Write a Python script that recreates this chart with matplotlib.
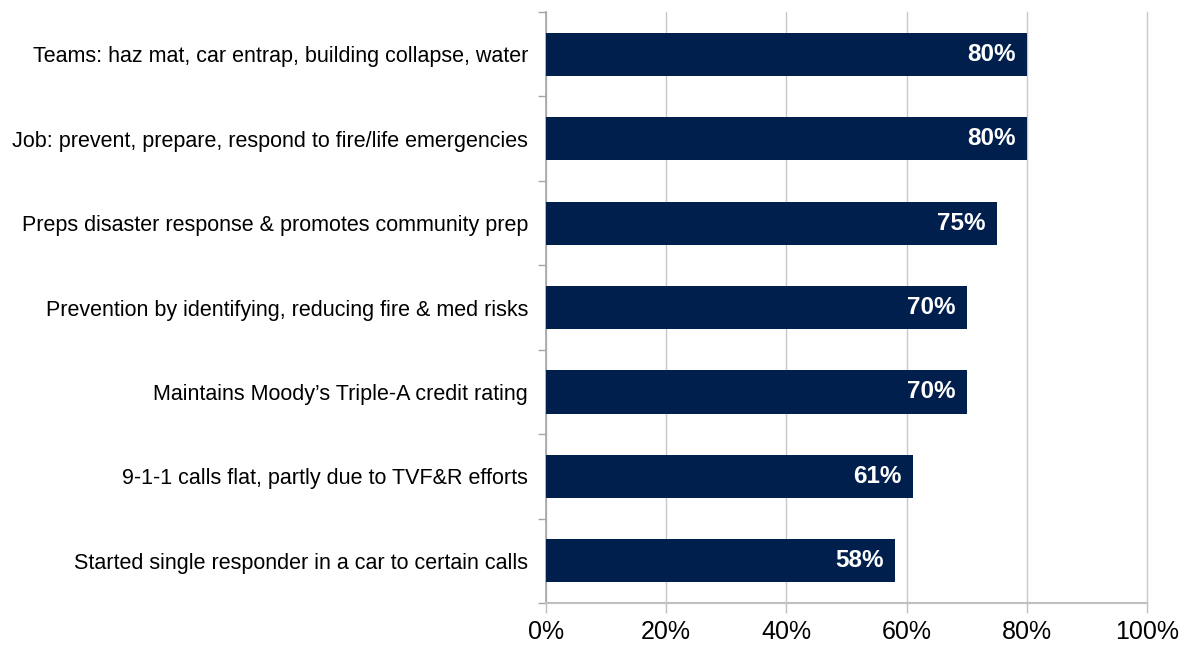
import matplotlib
matplotlib.use("Agg")
import matplotlib.pyplot as plt
import numpy as np

plt.rcParams['font.family'] = ['Liberation Sans', 'DejaVu Sans']

CATEGORIES = [
    "Teams: haz mat, car entrap, building collapse, water",
    "Job: prevent, prepare, respond to fire/life emergencies",
    "Preps disaster response & promotes community prep",
    "Prevention by identifying, reducing fire & med risks",
    "Maintains Moody\u2019s Triple-A credit rating",
    "9-1-1 calls flat, partly due to TVF&R efforts",
    "Started single responder in a car to certain calls",
]
VALUES = [80, 80, 75, 70, 70, 61, 58]
X_TICKS = [0, 20, 40, 60, 80, 100]

BAR_COLOR = '#001f4d'
GRID_COLOR = '#c8c8c8'


def main():
    fig = plt.figure(figsize=(11.87, 6.45), dpi=100)
    ax = fig.add_axes([0.46, 0.065, 0.5063, 0.9164])

    n = len(CATEGORIES)
    y = np.arange(n)[::-1]
    ax.barh(y, VALUES, height=0.51, color=BAR_COLOR, zorder=3)

    for yi, v in zip(y, VALUES):
        ax.text(v - 1.8, yi, f"{v}%", ha='right', va='center',
                color='white', fontsize=17.5, fontweight='bold', zorder=4)

    ax.set_xlim(0, 100)
    ax.set_ylim(-0.5, n - 0.5)
    ax.set_xticks(X_TICKS)
    ax.set_xticklabels([f"{t}%" for t in X_TICKS], fontsize=18)
    ax.set_yticks(y)
    ax.set_yticklabels(CATEGORIES, fontsize=15.5)
    ax.set_yticks(np.arange(-0.5, n, 1.0), minor=True)

    ax.tick_params(axis='y', which='major', length=0, pad=13)
    ax.tick_params(axis='y', which='minor', length=6, color='#a6a6a6', width=1)
    ax.tick_params(axis='x', length=7, color='#c0c0c0', width=1, pad=5)

    ax.grid(axis='x', color=GRID_COLOR, linewidth=1, zorder=0)
    for gl in ax.get_xgridlines():
        gl.set_clip_on(False)
    for side in ['top', 'right']:
        ax.spines[side].set_visible(False)
    ax.spines['left'].set_color('#a6a6a6')
    ax.spines['bottom'].set_color('#c0c0c0')
    ax.spines['left'].set_linewidth(1.2)
    ax.spines['bottom'].set_linewidth(1.5)

    fig.savefig("out.png", dpi=100)


if __name__ == "__main__":
    main()
